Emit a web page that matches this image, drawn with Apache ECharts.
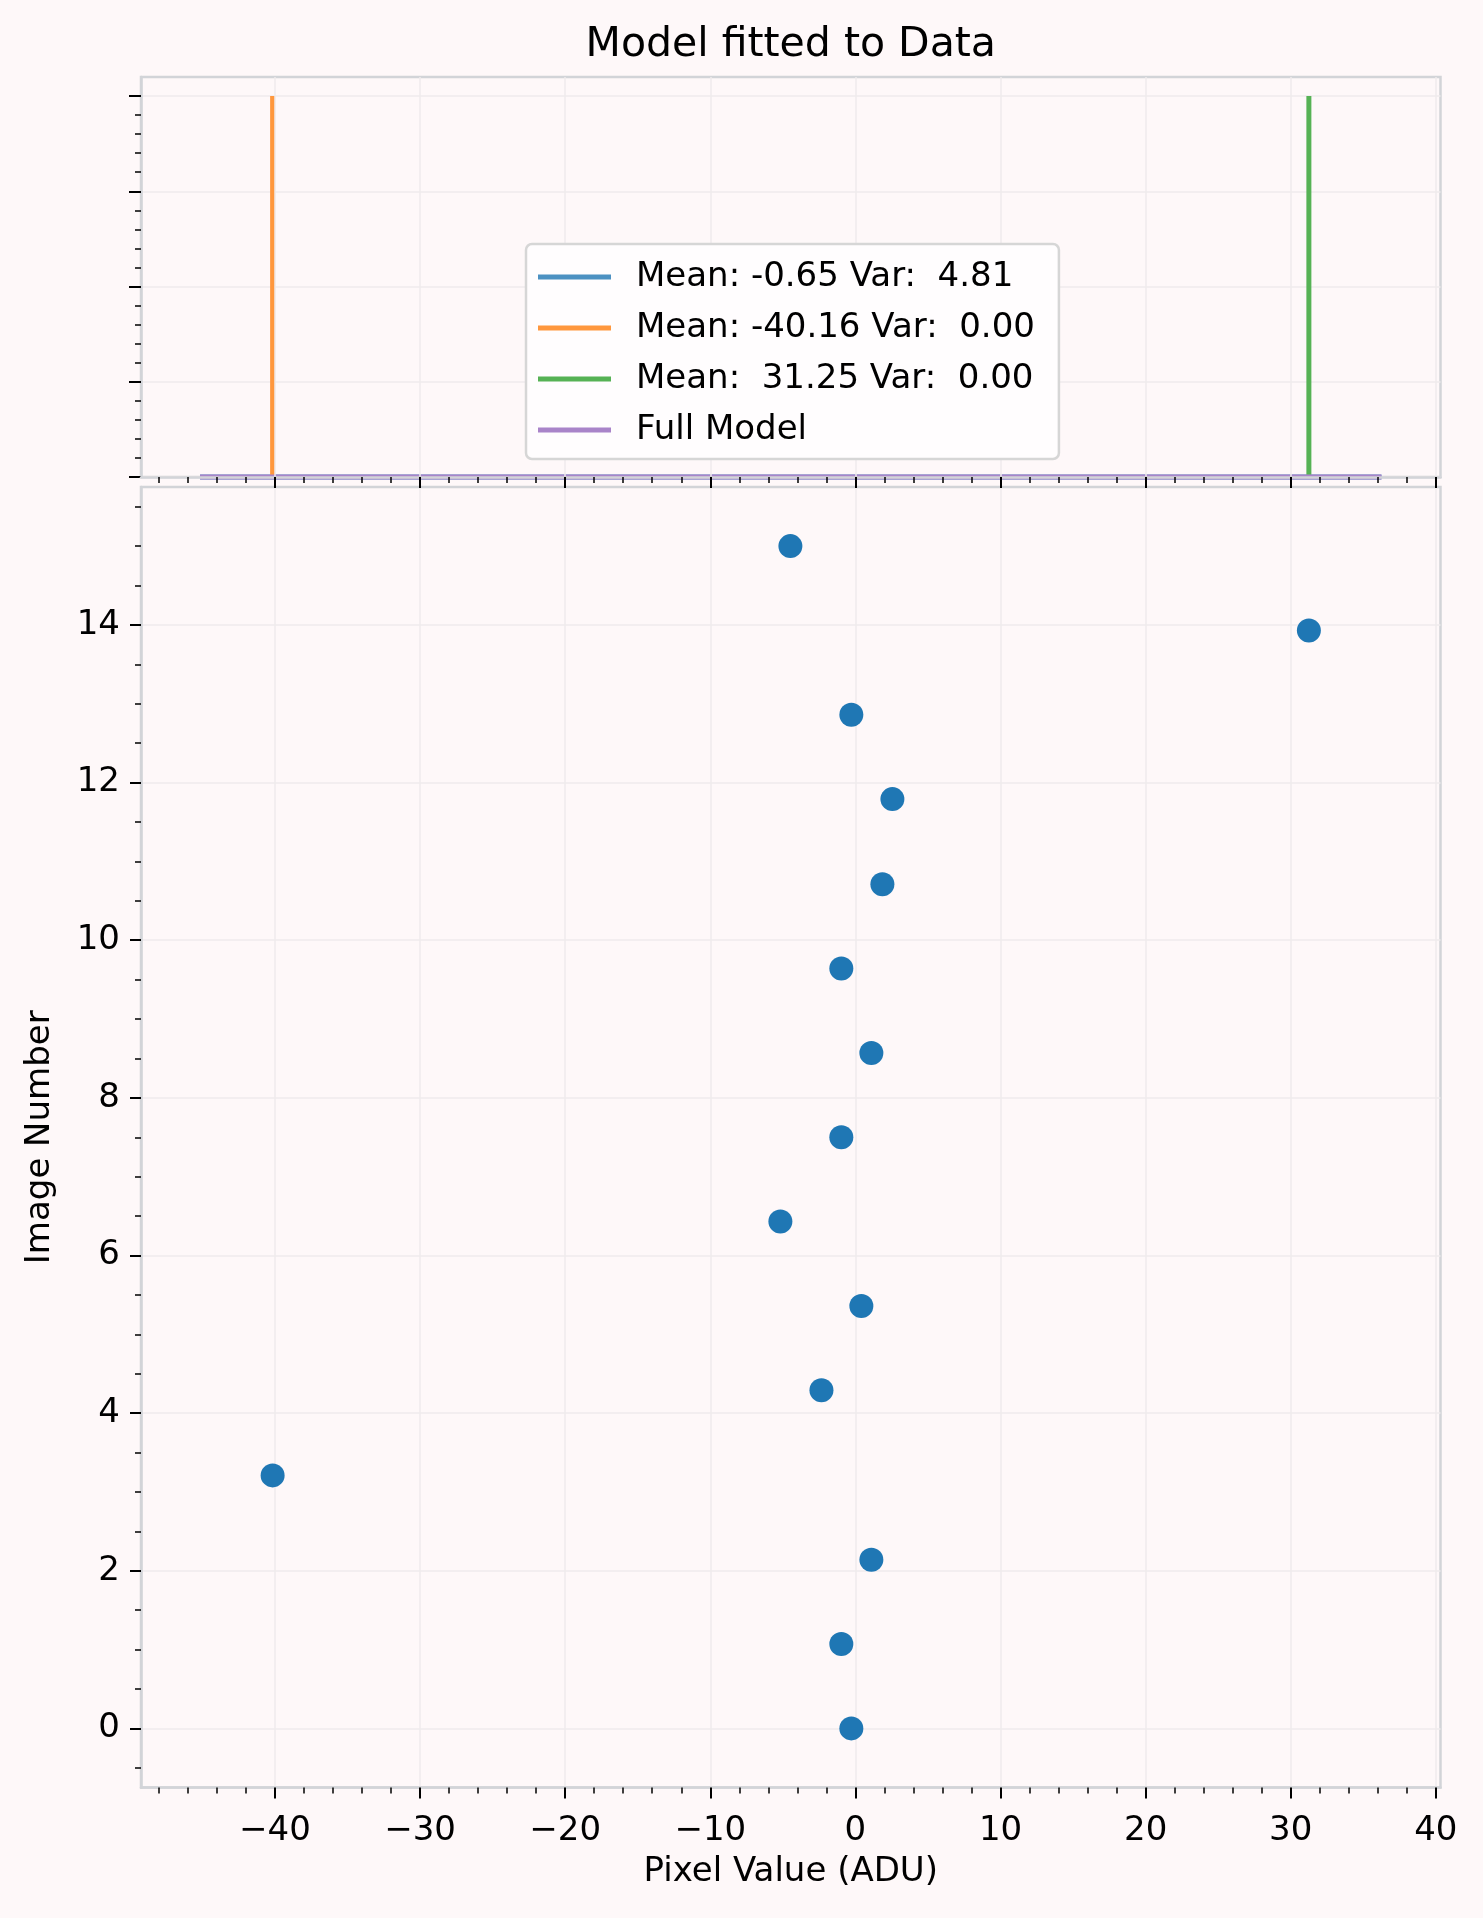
<!DOCTYPE html>
<html>
<head>
<meta charset="utf-8">
<script src="https://cdn.jsdelivr.net/npm/echarts@6/dist/echarts.min.js"></script>
<style>
html,body{margin:0;padding:0;background:#fef8f9;}
#chart{width:1483px;height:1918px;}
</style>
</head>
<body>
<div id="chart"></div>
<script>
// ---- data ----
const imageNumbers = [0, 1.07, 2.14, 3.21, 4.29, 5.36, 6.43, 7.5, 8.57, 9.64, 10.71, 11.79, 12.86, 13.93, 15];
const pixelValues  = [-0.28, -0.97, 1.10, -40.16, -2.34, 0.41, -5.17, -0.97, 1.10, -0.97, 1.86, 2.55, -0.28, 31.25, -4.48];
const legendLabels = ['Mean: -0.65 Var:  4.81', 'Mean: -40.16 Var:  0.00', 'Mean:  31.25 Var:  0.00', 'Full Model'];
const legendColors = ['#4c91c2', '#ff973d', '#56b255', '#a984c9'];
const modelRange   = [-45.16, 36.25];
const spikeMeans   = [-40.16, 31.25];
const spikeHeight  = 1;
const blueComponent = [[-45.16, 0], [36.25, 0]];
const fullModel     = [[-45.16, 0], [36.25, 0]];
const xTicks = [-40, -30, -20, -10, 0, 10, 20, 30, 40];
const yTicks = [0, 2, 4, 6, 8, 10, 12, 14];
const topYTicks = [0, 0.25, 0.5, 0.75, 1];
const xLimits = [-49.23, 40.32];
const yLimits = [-0.75, 15.75];

const FONT = 'DejaVu Sans';
const SPINE = '#d2d4d8';
const GRIDC = '#efebed';
const fmtMinus = v => (v < 0 ? '\u2212' + Math.abs(v) : String(v));

const scatterData = imageNumbers.map((y, i) => [pixelValues[i], y]);

const commonTick = {show: true, length: 11, lineStyle: {color: '#000', width: 2}};
const commonMinor = (n) => ({show: true, splitNumber: n, length: 6, lineStyle: {color: '#000', width: 1.5}});

const chart = echarts.init(document.getElementById('chart'), null, {renderer: 'canvas'});
chart.setOption({
  backgroundColor: '#fef8f9',
  animation: false,
  textStyle: {fontFamily: FONT},
  title: {
    text: 'Model fitted to Data',
    left: 790.75, top: 25, padding: 0, textAlign: 'center',
    textStyle: {fontFamily: FONT, fontSize: 41, fontWeight: 'normal', color: '#000'}
  },
  legend: {
    left: 526, top: 244, orient: 'vertical', z: 50,
    data: legendLabels.map((n, i) => ({name: n, icon: 'rect', itemStyle: {color: legendColors[i]}})),
    itemWidth: 73, itemHeight: 5, itemGap: 17,
    padding: [16, 24, 12, 12],
    backgroundColor: '#fffdfe', borderColor: '#d6d6d6', borderWidth: 2.5, borderRadius: 6,
    selectedMode: false,
    textStyle: {fontFamily: FONT, fontSize: 34, color: '#000', lineHeight: 34, padding: [0, 0, 0, 20]}
  },
  grid: [
    {left: 141, right: 42.5, top: 77, height: 400, show: true, borderColor: SPINE, borderWidth: 2.5, backgroundColor: 'transparent'},
    {left: 141, right: 42.5, top: 487, height: 1300.5, show: true, borderColor: SPINE, borderWidth: 2.5, backgroundColor: 'transparent'}
  ],
  xAxis: [
    {
      gridIndex: 0, type: 'value', min: xLimits[0], max: xLimits[1], minInterval: 10, maxInterval: 10, z: 10,
      axisLine: {show: true, onZero: false, lineStyle: {color: SPINE, width: 2.5}},
      axisTick: Object.assign({customValues: xTicks}, commonTick),
      minorTick: commonMinor(5),
      axisLabel: {show: false},
      splitLine: {show: true, lineStyle: {color: GRIDC, width: 1.5}}
    },
    {
      gridIndex: 1, type: 'value', min: xLimits[0], max: xLimits[1], minInterval: 10, maxInterval: 10,
      axisLine: {show: true, onZero: false, lineStyle: {color: SPINE, width: 2.5}},
      axisTick: Object.assign({customValues: xTicks}, commonTick),
      minorTick: commonMinor(5),
      axisLabel: {show: true, customValues: xTicks, formatter: fmtMinus, fontFamily: FONT, fontSize: 34, color: '#000', margin: 27},
      splitLine: {show: true, lineStyle: {color: GRIDC, width: 1.5}},
      name: 'Pixel Value (ADU)', nameLocation: 'middle', nameGap: 68,
      nameTextStyle: {fontFamily: FONT, fontSize: 34, color: '#000'}
    }
  ],
  yAxis: [
    {
      gridIndex: 0, type: 'value', min: 0, max: 1.05, minInterval: 0.25, maxInterval: 0.25,
      axisLine: {show: true, onZero: false, lineStyle: {color: SPINE, width: 2.5}},
      axisTick: Object.assign({customValues: topYTicks}, commonTick, {length: 12}),
      minorTick: commonMinor(5),
      axisLabel: {show: false},
      splitLine: {show: true, lineStyle: {color: GRIDC, width: 1.5}}
    },
    {
      gridIndex: 1, type: 'value', min: yLimits[0], max: yLimits[1], minInterval: 2, maxInterval: 2,
      axisLine: {show: true, onZero: false, lineStyle: {color: SPINE, width: 2.5}},
      axisTick: Object.assign({customValues: yTicks}, commonTick),
      minorTick: commonMinor(4),
      axisLabel: {show: true, customValues: yTicks, formatter: fmtMinus, fontFamily: FONT, fontSize: 34, color: '#000', margin: 21},
      splitLine: {show: true, lineStyle: {color: GRIDC, width: 1.5}},
      name: 'Image Number', nameLocation: 'middle', nameGap: 84,
      nameTextStyle: {fontFamily: FONT, fontSize: 34, color: '#000'}
    }
  ],
  series: [
    {name: legendLabels[0], type: 'line', xAxisIndex: 0, yAxisIndex: 0, data: blueComponent, symbol: 'none', clip: false, z: 2,
     lineStyle: {color: legendColors[0], width: 5}, itemStyle: {color: legendColors[0]}},
    {name: legendLabels[1], type: 'line', xAxisIndex: 0, yAxisIndex: 0, data: [[spikeMeans[0], 0], [spikeMeans[0], spikeHeight]], symbol: 'none', clip: false, z: 2,
     lineStyle: {color: legendColors[1], width: 5}, itemStyle: {color: legendColors[1]}},
    {name: legendLabels[2], type: 'line', xAxisIndex: 0, yAxisIndex: 0, data: [[spikeMeans[1], 0], [spikeMeans[1], spikeHeight]], symbol: 'none', clip: false, z: 2,
     lineStyle: {color: legendColors[2], width: 5}, itemStyle: {color: legendColors[2]}},
    {name: legendLabels[3], type: 'line', xAxisIndex: 0, yAxisIndex: 0, data: fullModel, symbol: 'none', clip: false, z: 2,
     lineStyle: {color: legendColors[3], width: 5}, itemStyle: {color: legendColors[3]}},
    {name: 'data', type: 'scatter', xAxisIndex: 1, yAxisIndex: 1, data: scatterData, symbolSize: 24,
     itemStyle: {color: '#1f77b4', opacity: 1}}
  ]
});
</script>
</body>
</html>
